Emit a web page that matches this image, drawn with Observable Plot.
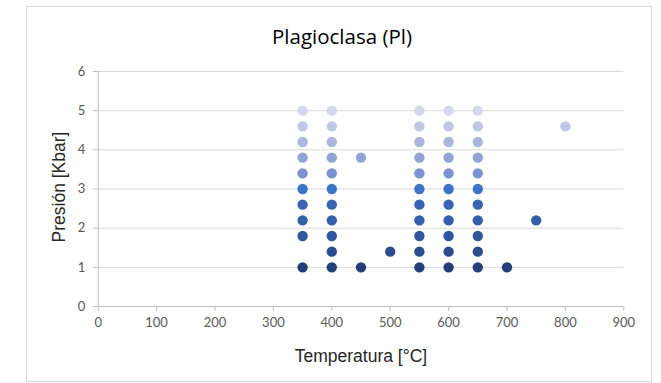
<!DOCTYPE html>
<html>
<head>
<meta charset="utf-8">
<script src="https://cdn.jsdelivr.net/npm/d3@7"></script>
<script src="https://cdn.jsdelivr.net/npm/@observablehq/plot@0.6"></script>
<style>
  html, body { margin: 0; padding: 0; background: #fff; }
  #wrap { position: relative; width: 661px; height: 383px; }
  #frame { position: absolute; left: 26px; top: 6px; width: 626px; height: 376px; border: 1px solid #d9d9d9; box-sizing: border-box; pointer-events: none; }
  svg { display: block; }
</style>
</head>
<body>
<div id="wrap"><div id="frame"></div></div>
<script>
const title = "Plagioclasa (Pl)";
const xTitle = "Temperatura [°C]";
const yTitle = "Presión [Kbar]";
const xTicks = [0, 100, 200, 300, 400, 500, 600, 700, 800, 900];
const yTicks = [0, 1, 2, 3, 4, 5, 6];

// pressure levels (Kbar) and their colours
const levels = [1.0, 1.4, 1.8, 2.2, 2.6, 3.0, 3.4, 3.8, 4.2, 4.6, 5.0];
const levelColors = ["#243f77", "#2c4d8d", "#30569e", "#345fab", "#3864b2", "#3f73c7", "#7b91d0", "#92a4d6", "#aab6dc", "#c0c8e5", "#d3d8ec"];

// temperatures (°C) present at each pressure level
const temps_1_0 = [350, 400, 450, 550, 600, 650, 700];
const temps_1_4 = [400, 500, 550, 600, 650];
const temps_1_8 = [350, 400, 550, 600, 650];
const temps_2_2 = [350, 400, 550, 600, 650, 750];
const temps_2_6 = [350, 400, 550, 600, 650];
const temps_3_0 = [350, 400, 550, 600, 650];
const temps_3_4 = [350, 400, 550, 600, 650];
const temps_3_8 = [350, 400, 450, 550, 600, 650];
const temps_4_2 = [350, 400, 550, 600, 650];
const temps_4_6 = [350, 400, 550, 600, 650, 800];
const temps_5_0 = [350, 400, 550, 600, 650];

const tempsByLevel = [temps_1_0, temps_1_4, temps_1_8, temps_2_2, temps_2_6, temps_3_0, temps_3_4, temps_3_8, temps_4_2, temps_4_6, temps_5_0];
const data = levels.flatMap((p, i) => tempsByLevel[i].map(t => ({t, p})));

const tickFont = "Lato, 'Open Sans', sans-serif";
const titleFont = "'Liberation Sans', Arial, sans-serif";

const chart = Plot.plot({
  width: 661,
  height: 383,
  marginLeft: 97.7,
  marginRight: 37.7,
  marginTop: 71,
  marginBottom: 77,
  style: {fontFamily: tickFont, background: "transparent", overflow: "visible"},
  x: {domain: [0, 900]},
  y: {domain: [0, 6]},
  color: {type: "ordinal", domain: levels, range: levelColors},
  marks: [
    Plot.gridY(yTicks.filter(d => d > 0), {stroke: "#d9d9d9", strokeOpacity: 1, strokeWidth: 1}),
    Plot.ruleY([0], {stroke: "#bfbfbf", strokeWidth: 1}),
    Plot.ruleX([0], {stroke: "#bfbfbf", strokeWidth: 1}),
    Plot.axisX(xTicks, {tickSize: 5, tickPadding: 6, stroke: "#bfbfbf", fill: "#595959", fontSize: 13, label: null}),
    Plot.axisY(yTicks, {tickSize: 5, tickPadding: 8, stroke: "#bfbfbf", fill: "#595959", fontSize: 13, label: null}),
    Plot.dot(data, {x: "t", y: "p", r: 5.2, fill: "p", stroke: null}),
    Plot.text([title], {frameAnchor: "top", textAnchor: "middle", dx: -19, dy: -34, lineAnchor: "middle", fontSize: 20.5, fontWeight: 400, fill: "#000", fontFamily: "'Open Sans', Lato, sans-serif"}),
    Plot.text([xTitle], {frameAnchor: "bottom", textAnchor: "middle", dy: 50, lineAnchor: "middle", fontSize: 17.5, fontWeight: 400, fill: "#262626", fontFamily: titleFont}),
    Plot.text([yTitle], {frameAnchor: "left", textAnchor: "middle", dx: -39, dy: -2, rotate: -90, lineAnchor: "middle", fontSize: 17.5, fontWeight: 400, fill: "#262626", fontFamily: titleFont})
  ]
});
document.getElementById("wrap").prepend(chart);
</script>
</body>
</html>
